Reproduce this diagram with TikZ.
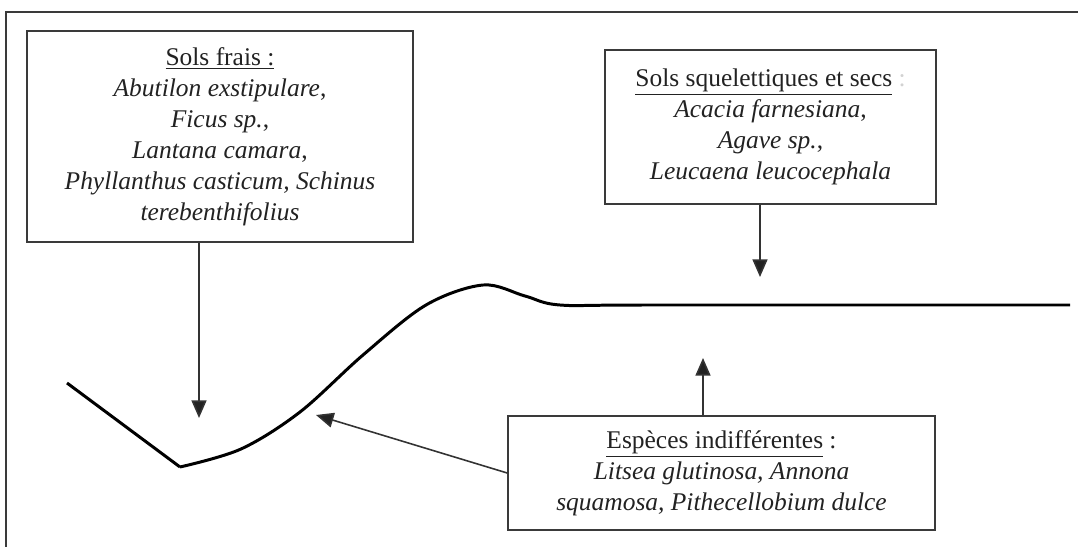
\documentclass[tikz,border=0pt]{standalone}
\usepackage{fontspec}
\setmainfont{Liberation Serif}
\usetikzlibrary{arrows.meta}
\definecolor{boxgray}{HTML}{3A3A3A}
\definecolor{inkgray}{HTML}{222222}
\tikzset{
    soilbox/.style={draw=boxgray, line width=0.9pt, align=center, inner sep=0pt,
        text=inkgray, font=\fontsize{14.5}{17.6}\selectfont},
    pointer/.style={draw=gray!40!black, line width=0.9pt,
        -{Triangle[length=10pt, width=8.5pt, fill=inkgray]}},
}
\begin{document}
\begin{tikzpicture}[x=0.02cm, y=-0.02cm]
    \useasboundingbox (0, 0) rectangle (1078, 547);
    
    % Frame
    \draw[boxgray, line width=0.9pt] (6, 547) -- (6, 12) -- (1078, 12);
    
    % Boxes
    \node[soilbox, minimum width=386*0.02cm, minimum height=211*0.02cm] (frais) at (220, 136.5) {
        \underline{Sols frais :}\\
        \textit{Abutilon exstipulare},\\
        \textit{Ficus sp.},\\
        \textit{Lantana camara},\\
        \textit{Phyllanthus casticum, Schinus}\\
        \textit{terebenthifolius}
    };
    \node[soilbox, minimum width=331*0.02cm, minimum height=154*0.02cm] (secs) at (770.5, 127) {
        \underline{Sols squelettiques et secs}~\textcolor{gray!35}{:}\\
        \textit{Acacia farnesiana},\\
        \textit{Agave sp.},\\
        \textit{Leucaena leucocephala}
    };
    \node[soilbox, minimum width=427*0.02cm, minimum height=114*0.02cm] (indiff) at (721.5, 473) {
        \underline{Espèces indifférentes} :\\
        \textit{Litsea glutinosa, Annona}\\
        \textit{squamosa, Pithecellobium dulce}
    };
    
    % Relief profile
    \draw[black, line width=1.7pt, line join=round]
        (67, 383) -- (180, 467)
        plot[smooth, tension=0.55] coordinates {(180, 467) (241, 449) (300, 412)
            (363, 355) (426, 305) (483, 285) (525, 296) (560, 305) (650, 305) (1070, 305)};
    
    % Arrows
    \coordinate (tipA) at (199, 418);
    \coordinate (tipB) at (760, 277);
    \coordinate (tipC) at (703, 358);
    \coordinate (tipD) at (316, 415);
    \draw[pointer] (frais.south -| tipA) -- (tipA);
    \draw[pointer] (secs.south -| tipB) -- (tipB);
    \draw[pointer] (indiff.north -| tipC) -- (tipC);
    \draw[pointer] (indiff.west) -- (tipD);
\end{tikzpicture}
\end{document}
